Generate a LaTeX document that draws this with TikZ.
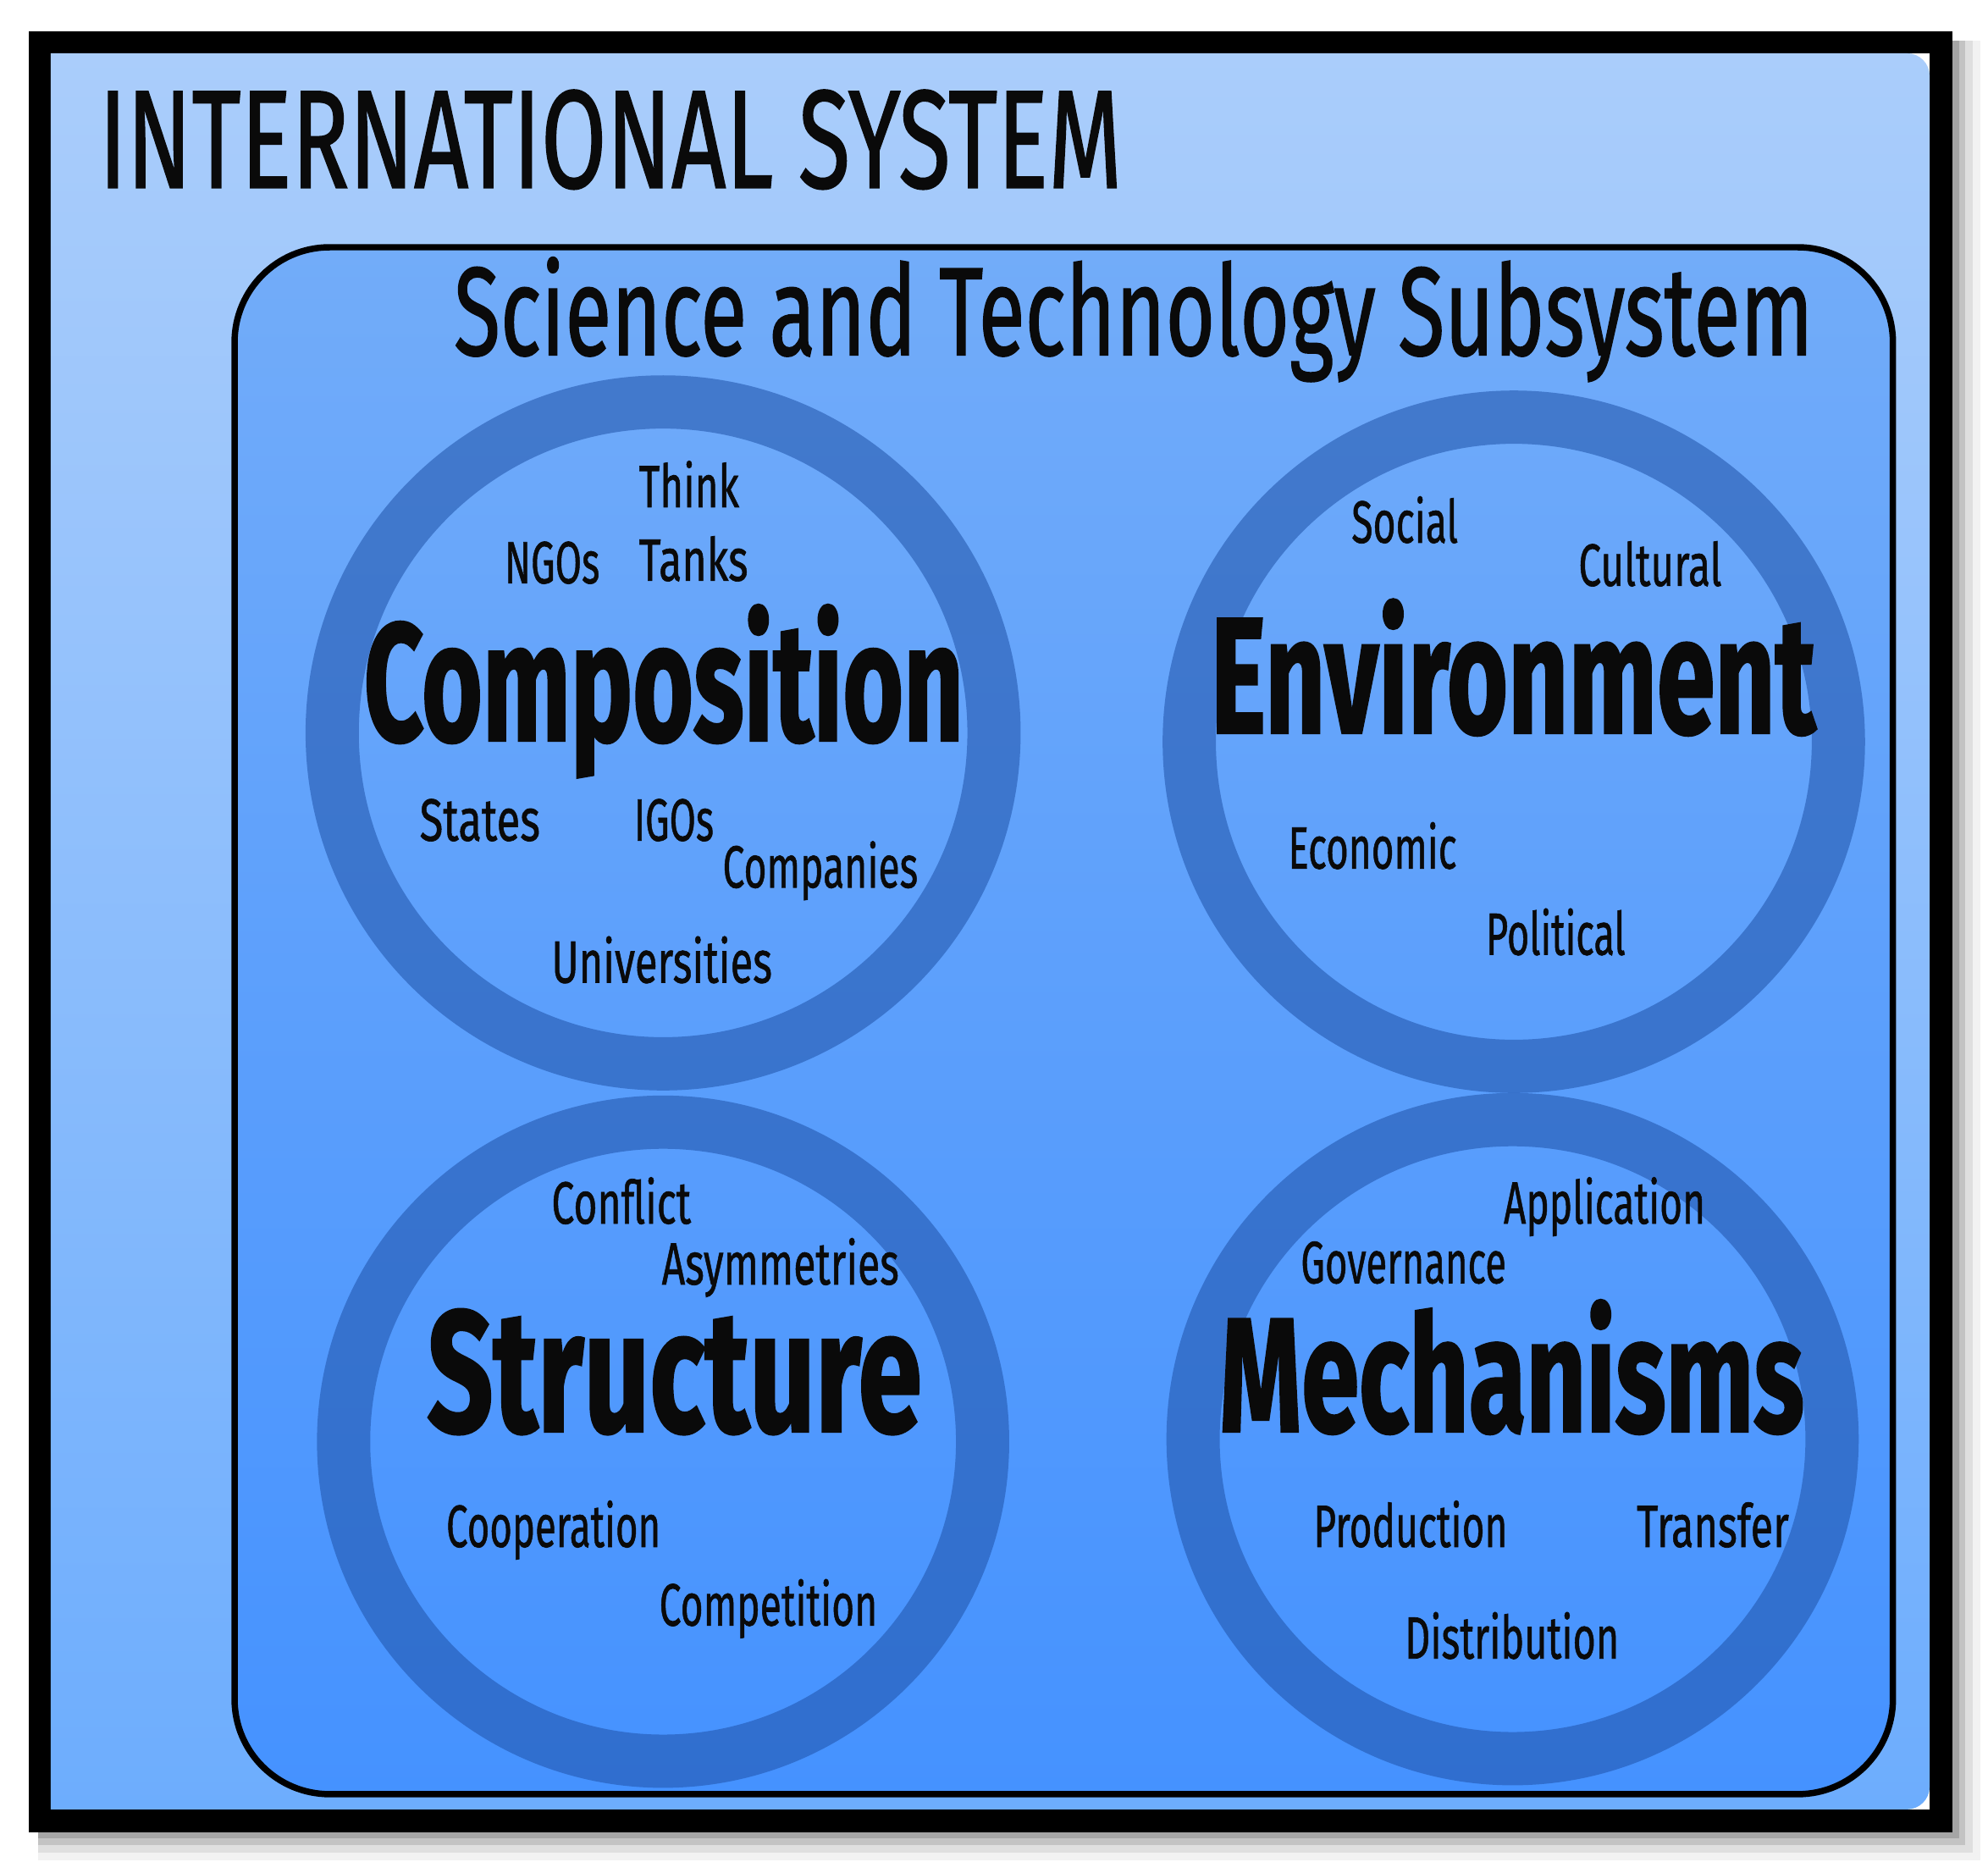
\documentclass[tikz,border=0pt]{standalone}
\usepackage{fontspec}
\setmainfont{Fira Sans}
\newfontfamily\titlefont{Fira Sans}[FakeBold=1.2]
\newfontfamily\smallfont{Fira Sans}[FakeBold=1.0]
\newfontfamily\bigfont{Fira Sans Bold}[FakeBold=1.5]
\usepackage{graphicx}
\definecolor{ink}{HTML}{0A0A0A}
\definecolor{outertop}{HTML}{AACDFB}
\definecolor{outerbot}{HTML}{6DADFD}
\definecolor{innertop}{HTML}{72ACF9}
\definecolor{innerbot}{HTML}{4592FF}
\definecolor{ringc}{HTML}{1F52A8}
\newcommand\fitw[3]{\resizebox{#1pt}{\height}{\fontsize{#2pt}{#2pt}\selectfont #3}}
\begin{document}
\begin{tikzpicture}[x=1pt,y=-1pt,
  word/.style={anchor=base west,inner sep=0pt,outer sep=0pt,text=ink,font=\smallfont},
  bigword/.style={word,font=\bigfont},
  ringnode/.style={circle,draw=ringc,draw opacity=0.55,line width=42pt,inner sep=0pt,fill=none}]
\useasboundingbox (0,0) rectangle (1568,1477);
\fill[white] (0,0) rectangle (1568,1477);
% shadow
\foreach \k/\o in {22/0.05,16/0.08,10/0.12,5/0.15}{
  \fill[black,opacity=\o] (30,32) rectangle (1540+\k,1445+\k);
}
% black frame
\fill[black] (23,25) rectangle (1540,1445);
\fill[white] (40,42) rectangle (1522,1427);
\begin{scope}
  \clip (40,42) rectangle (1522,1427);
  \shade[top color=outertop,bottom color=outerbot,rounded corners=18pt] (0,42) rectangle (1522,1427);
\end{scope}
% inner subsystem box
\shade[top color=innertop,bottom color=innerbot] (185,195) [rounded corners=75pt] rectangle (1493,1415);
\draw[black,line width=5pt,rounded corners=75pt] (185,195) rectangle (1493,1415);
% rings
\node[ringnode,minimum size=522pt] (compring) at (523,578) {};
\node[ringnode,minimum size=512pt] (envring) at (1194,585) {};
\node[ringnode,minimum size=504pt] (strring) at (523,1137) {};
\node[ringnode,minimum size=504pt] (mechring) at (1193,1135) {};
% titles
\node[word,font=\titlefont] (title) at (78,148) {\fitw{807}{110}{INTERNATIONAL SYSTEM}};
\node[word,font=\titlefont] (subtitle) at (358,280) {\fitw{1072}{99}{Science and Technology Subsystem}};
% composition
\node[word] (think) at (504,400) {\fitw{79}{47}{Think}};
\node[word] (ngos) at (398,460) {\fitw{75}{47}{NGOs}};
\node[word] (tanks) at (504,458) {\fitw{86}{47}{Tanks}};
\node[bigword] (composition) at (287,584) {\fitw{473}{132}{Composition}};
\node[word] (states) at (331,663) {\fitw{95}{47}{States}};
\node[word] (igos) at (500,663) {\fitw{63}{47}{IGOs}};
\node[word] (companies) at (570,700) {\fitw{154}{47}{Companies}};
\node[word] (universities) at (435,775) {\fitw{174}{47}{Universities}};
% environment
\node[word] (social) at (1066,428) {\fitw{84}{47}{Social}};
\node[word] (cultural) at (1245,462) {\fitw{113}{47}{Cultural}};
\node[bigword] (environment) at (955,578) {\fitw{477}{130}{Environment}};
\node[word] (economic) at (1016,685) {\fitw{133}{47}{Economic}};
\node[word] (political) at (1172,753) {\fitw{110}{47}{Political}};
% structure
\node[word] (conflict) at (435,965) {\fitw{110}{47}{Conflict}};
\node[word] (asym) at (522,1013) {\fitw{187}{47}{Asymmetries}};
\node[bigword] (structure) at (337,1129) {\fitw{390}{136}{Structure}};
\node[word] (coop) at (352,1220) {\fitw{169}{47}{Cooperation}};
\node[word] (comp) at (520,1282) {\fitw{172}{47}{Competition}};
% mechanisms
\node[word] (application) at (1186,965) {\fitw{159}{47}{Application}};
\node[word] (governance) at (1026,1012) {\fitw{162}{47}{Governance}};
\node[bigword] (mechanisms) at (962,1129) {\fitw{461}{128}{Mechanisms}};
\node[word] (production) at (1036,1220) {\fitw{153}{47}{Production}};
\node[word] (transfer) at (1291,1220) {\fitw{120}{47}{Transfer}};
\node[word] (distribution) at (1108,1308) {\fitw{169}{47}{Distribution}};
\end{tikzpicture}
\end{document}
